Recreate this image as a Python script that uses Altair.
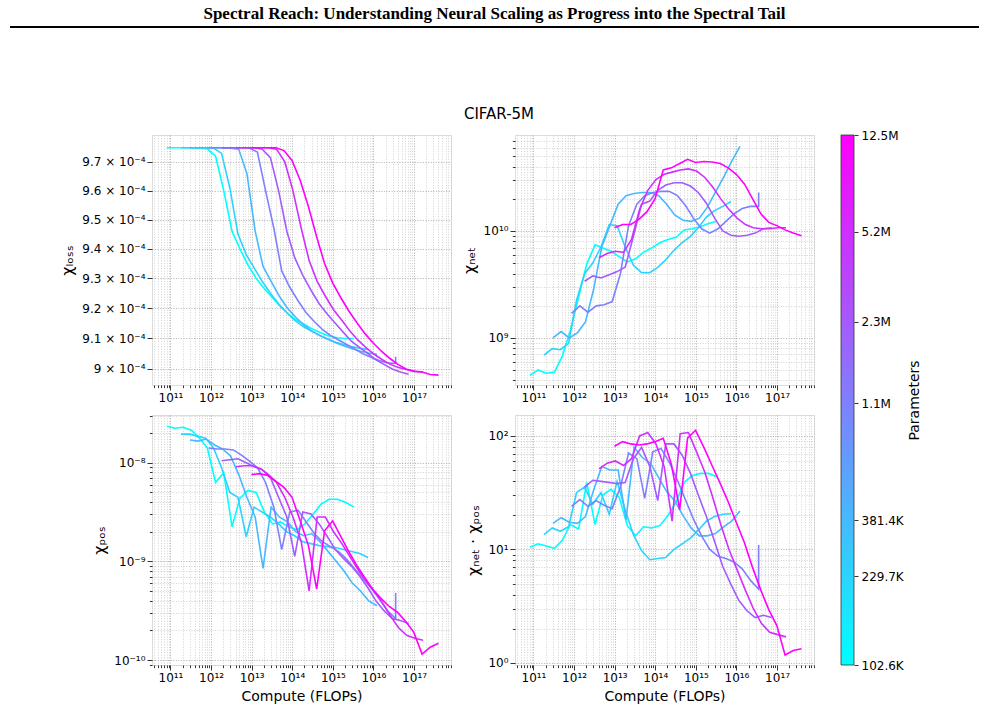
import altair as alt
import pandas as pd

# ---------------------------------------------------------------- data
PARAMS = [102_600, 229_700, 381_400, 1_100_000, 2_300_000, 5_200_000, 12_500_000]
PARAM_LABELS = ["102.6K", "229.7K", "381.4K", "1.1M", "2.3M", "5.2M", "12.5M"]

# checkpoint compute per parameter (compute = params * value)
FLOPS_PER_PARAM = [7.9e5, 1.26e6, 2.0e6, 3.2e6, 5.0e6, 7.9e6, 1.26e7, 2.0e7,
                   3.2e7, 5.0e7, 7.9e7, 1.26e8, 2.0e8, 3.2e8, 5.0e8, 7.9e8,
                   1.26e9, 2.0e9, 3.2e9, 5.0e9, 7.9e9, 1.26e10, 2.0e10, 3.2e10]

# chi_loss in units of 1e-4 (1.1M has one extra final evaluation)
LOSS = [
    [9.750, 9.750, 9.750, 9.750, 9.749, 9.746, 9.72, 9.60, 9.46, 9.40, 9.345, 9.30,
     9.265, 9.235, 9.205, 9.18, 9.16, 9.145, 9.13, 9.118, 9.108, 9.102, 9.100, 9.100],
    [9.750, 9.750, 9.750, 9.750, 9.749, 9.73, 9.61, 9.45, 9.38, 9.335, 9.29, 9.25,
     9.215, 9.185, 9.16, 9.14, 9.125, 9.11, 9.098, 9.088, 9.08, 9.073, 9.068, 9.064],
    [9.750, 9.750, 9.750, 9.750, 9.749, 9.748, 9.745, 9.66, 9.46, 9.34, 9.29, 9.24,
     9.20, 9.17, 9.145, 9.125, 9.11, 9.097, 9.085, 9.075, 9.066, 9.058, 9.052, 9.048],
    [9.750, 9.750, 9.750, 9.750, 9.750, 9.749, 9.735, 9.60, 9.47, 9.325, 9.27, 9.225,
     9.185, 9.155, 9.13, 9.11, 9.095, 9.08, 9.065, 9.05, 9.038, 9.028, 9.02, 9.018, 9.04],
    [9.750, 9.750, 9.750, 9.750, 9.750, 9.745, 9.715, 9.60, 9.46, 9.37, 9.31, 9.26,
     9.215, 9.18, 9.15, 9.12, 9.09, 9.07, 9.05, 9.03, 9.015, 9.0, 8.99, 8.983],
    [9.750, 9.750, 9.750, 9.750, 9.750, 9.745, 9.70, 9.60, 9.47, 9.36, 9.29, 9.24,
     9.195, 9.16, 9.125, 9.095, 9.07, 9.048, 9.03, 9.015, 9.005, 8.998, 8.992, 8.99],
    [9.750, 9.750, 9.750, 9.750, 9.74, 9.705, 9.635, 9.545, 9.44, 9.35, 9.285, 9.235,
     9.19, 9.15, 9.115, 9.085, 9.058, 9.035, 9.015, 9.0, 8.993, 8.99, 8.982, 8.98],
]

# log10 of chi_net
LOG_NET = [
    [8.65, 8.70, 8.67, 8.68, 8.83, 9.07, 9.38, 9.69, 9.87, 9.84, 9.81, 9.76,
     9.71, 9.74, 9.80, 9.84, 9.89, 9.92, 9.94, 10.01, 10.02, 10.04, 10.07, 10.09],
    [8.84, 8.90, 8.89, 8.95, 9.35, 9.60, 9.70, 9.85, 10.06, 10.05, 9.85, 9.68,
     9.61, 9.61, 9.66, 9.73, 9.82, 9.89, 9.95, 10.03, 10.13, 10.19, 10.23, 10.275],
    [9.00, 9.06, 9.00, 9.05, 9.15, 9.45, 9.85, 10.05, 10.25, 10.33, 10.35, 10.36,
     10.36, 10.33, 10.25, 10.15, 10.10, 10.09, 10.12, 10.22, 10.36, 10.50, 10.65, 10.79],
    [9.23, 9.30, 9.24, 9.30, 9.31, 9.34, 9.60, 10.05, 10.25, 10.33, 10.36, 10.37,
     10.37, 10.33, 10.24, 10.12, 10.02, 9.98, 10.02, 10.09, 10.16, 10.21, 10.23, 10.23, 10.36],
    [9.53, 9.58, 9.56, 9.59, 9.62, 9.66, 9.95, 10.25, 10.28, 10.38, 10.43, 10.45,
     10.45, 10.42, 10.36, 10.26, 10.12, 10.00, 9.96, 9.95, 9.96, 9.98, 10.02, 10.03],
    [9.75, 9.79, 9.81, 9.80, 9.92, 10.20, 10.38, 10.48, 10.53, 10.55, 10.57, 10.58,
     10.56, 10.50, 10.41, 10.30, 10.20, 10.12, 10.06, 10.03, 10.02, 10.02, 10.03, 10.03],
    [10.03, 10.06, 10.06, 10.11, 10.18, 10.30, 10.57, 10.59, 10.63, 10.67, 10.64, 10.65,
     10.645, 10.63, 10.59, 10.53, 10.44, 10.30, 10.16, 10.08, 10.05, 10.01, 9.98, 9.955],
]

# log10 of chi_pos
LOG_POS = [
    [-7.63, -7.65, -7.64, -7.67, -7.75, -7.85, -8.20, -8.10, -8.65, -8.36, -8.28, -8.30,
     -8.50, -8.62, -8.60, -8.65, -8.68, -8.62, -8.52, -8.42, -8.37, -8.37, -8.40, -8.45],
    [-7.71, -7.71, -7.73, -7.75, -7.85, -8.05, -8.30, -8.35, -8.75, -8.45, -8.50, -8.55,
     -8.62, -8.70, -8.74, -8.80, -8.82, -8.84, -8.85, -8.86, -8.88, -8.90, -8.92, -8.96],
    [-7.77, -7.78, -7.76, -7.82, -7.86, -7.93, -8.12, -8.35, -8.55, -9.07, -8.45, -8.55,
     -8.60, -8.70, -8.74, -8.72, -8.80, -8.90, -9.00, -9.10, -9.22, -9.30, -9.40, -9.45],
    [-7.85, -7.86, -7.86, -7.87, -7.92, -7.98, -8.05, -8.20, -8.45, -8.88, -8.50, -8.48,
     -8.60, -8.72, -8.80, -8.85, -8.90, -8.98, -9.08, -9.17, -9.27, -9.38, -9.50, -9.58, -9.32],
    [-7.98, -7.97, -7.96, -8.00, -8.04, -8.07, -8.15, -8.35, -8.55, -8.95, -8.50, -8.52,
     -8.62, -8.75, -8.88, -8.97, -9.05, -9.15, -9.27, -9.40, -9.50, -9.58, -9.60, -9.63],
    [-8.04, -8.03, -8.03, -8.06, -8.12, -8.20, -8.35, -8.55, -8.80, -9.30, -8.55, -8.55,
     -8.70, -8.82, -8.95, -9.08, -9.20, -9.30, -9.42, -9.55, -9.67, -9.75, -9.78, -9.80],
    [-8.12, -8.11, -8.13, -8.19, -8.25, -8.35, -8.59, -8.84, -9.28, -8.69, -8.59, -8.75,
     -8.905, -9.05, -9.17, -9.29, -9.38, -9.46, -9.52, -9.61, -9.72, -9.94, -9.87, -9.83],
]

# tick labels
X_TICKS = [1e11, 1e12, 1e13, 1e14, 1e15, 1e16, 1e17]
X_TICK_LABELS = ["10¹¹", "10¹²", "10¹³", "10¹⁴", "10¹⁵", "10¹⁶", "10¹⁷"]
LOSS_TICKS = [9.0e-4, 9.1e-4, 9.2e-4, 9.3e-4, 9.4e-4, 9.5e-4, 9.6e-4, 9.7e-4]
LOSS_TICK_LABELS = ["9 × 10⁻⁴", "9.1 × 10⁻⁴", "9.2 × 10⁻⁴", "9.3 × 10⁻⁴",
                    "9.4 × 10⁻⁴", "9.5 × 10⁻⁴", "9.6 × 10⁻⁴", "9.7 × 10⁻⁴"]
NET_TICKS = [1e9, 1e10]
NET_TICK_LABELS = ["10⁹", "10¹⁰"]
POS_TICKS = [1e-10, 1e-9, 1e-8]
POS_TICK_LABELS = ["10⁻¹⁰", "10⁻⁹", "10⁻⁸"]
PROD_TICKS = [1, 10, 100]
PROD_TICK_LABELS = ["10⁰", "10¹", "10²"]

HEADER = "Spectral Reach: Understanding Neural Scaling as Progress into the Spectral Tail"
SUPTITLE = "CIFAR-5M"

# ---------------------------------------------------------------- table
rows = []
for mi, (n, lab) in enumerate(zip(PARAMS, PARAM_LABELS)):
    npts = len(LOSS[mi])
    fpp = FLOPS_PER_PARAM + [FLOPS_PER_PARAM[-1]] * (npts - len(FLOPS_PER_PARAM))
    for k in range(npts):
        net = 10 ** LOG_NET[mi][k]
        pos = 10 ** LOG_POS[mi][k]
        rows.append({
            "model": mi, "label": lab, "params": n, "step": k,
            "compute": n * fpp[k],
            "loss": LOSS[mi][k] * 1e-4,
            "net": net, "pos": pos, "prod": net * pos,
        })
df = pd.DataFrame(rows)

# ---------------------------------------------------------------- helpers
FONT = "DejaVu Sans"
X_DOMAIN = [3.51e10, 8.13e17]
GRID_MAJOR = "#9c9c9c"
GRID_MINOR = "#c6c6c6"


def minor_ticks(lo, hi, e0, e1):
    out = []
    for e in range(e0, e1 + 1):
        for m in range(2, 10):
            v = m * (10.0 ** e)
            if lo <= v <= hi:
                out.append(v)
    return out


def label_expr(values, labels):
    parts = [f"abs(datum.value / {v!r} - 1) < 1e-6 ? '{t}'" for v, t in zip(values, labels)]
    return " : ".join(parts) + " : ''"


def is_major(major):
    return " || ".join(f"abs(datum.value / {v!r} - 1) < 1e-6" for v in major)


def log_axis(major, labels, minor, title=None, all_major=False, title_size=14):
    test = is_major(major)
    kw = dict(
        values=sorted(major + minor),
        labelExpr=label_expr(major, labels),
        labelOverlap=False, labelFlush=False,
        labelFont=FONT, labelFontSize=12, labelColor="black", labelPadding=2,
        tickColor="black", tickWidth=0.8,
        tickSize=5 if all_major else {"condition": {"test": test, "value": 5}, "value": 2.6},
        grid=True, gridDash=[1, 1.6], gridWidth=0.8,
        gridColor=GRID_MAJOR if all_major else
        {"condition": {"test": test, "value": GRID_MAJOR}, "value": GRID_MINOR},
        domain=False,
        titleFont=FONT, titleFontSize=title_size, titleFontWeight="normal", titleColor="black",
        titlePadding=6,
    )
    kw["title"] = title if title is not None else ""
    return alt.Axis(**kw)


COLOR = alt.Color("params:Q", legend=None,
                  scale=alt.Scale(type="log", domain=[PARAMS[0], PARAMS[-1]],
                                  range=["#00ffff", "#ff00ff"], interpolate="rgb"))

x_minor = minor_ticks(X_DOMAIN[0], X_DOMAIN[1], 10, 17)


def lines(field, ydomain, yaxis, xtitle):
    return alt.Chart(df).mark_line(strokeWidth=1.6, clip=True).encode(
        x=alt.X("compute:Q",
                scale=alt.Scale(type="log", domain=X_DOMAIN, nice=False),
                axis=log_axis(X_TICKS, X_TICK_LABELS, x_minor, title=xtitle)),
        y=alt.Y(f"{field}:Q",
                scale=alt.Scale(type="log", domain=ydomain, nice=False),
                axis=yaxis),
        color=COLOR,
        detail="model:N",
        order="step:Q",
    )


W, H = 299, 250
YT = 16  # y-title size

# top-left: chi_loss
loss_dom = [8.948e-4, 9.795e-4]
tl_lines = lines("loss", loss_dom,
                 log_axis(LOSS_TICKS, LOSS_TICK_LABELS, [], title="χₗₒₛₛ",
                          all_major=True, title_size=YT), None)

one = pd.DataFrame({"k": [0]})
anchor = alt.Chart(one).mark_rule(opacity=0).encode(
    x=alt.value(-142), x2=alt.value(827), y=alt.value(-134))
header_rule = alt.Chart(one).mark_rule(color="black", strokeWidth=1.8).encode(
    x=alt.value(-142), x2=alt.value(827), y=alt.value(-108))
header_text = alt.Chart(one).mark_text(
    text=HEADER, font="Liberation Serif", fontWeight="bold", fontSize=17,
    align="center", baseline="middle", color="black").encode(
    x=alt.value(342.5), y=alt.value(-121))
sup_text = alt.Chart(one).mark_text(
    text=SUPTITLE, font=FONT, fontSize=15, align="center", baseline="middle",
    color="black").encode(x=alt.value(347), y=alt.value(-21))

TL = alt.layer(anchor, header_rule, header_text, sup_text, tl_lines).properties(width=W, height=H)

# top-right: chi_net, with the parameter colorbar
net_dom = [3.63e8, 7.89e10]
tr_lines = lines("net", net_dom,
                 log_axis(NET_TICKS, NET_TICK_LABELS, minor_ticks(net_dom[0], net_dom[1], 8, 10),
                          title="χₙₑₜ", title_size=YT), None)

cbar = alt.Chart(pd.DataFrame({"pmin": [PARAMS[0]], "pmax": [PARAMS[-1]]})).mark_rect(
    fill={"gradient": "linear", "x1": 0, "x2": 0, "y1": 1, "y2": 0,
          "stops": [{"offset": 0, "color": "#00ffff"}, {"offset": 1, "color": "#ff00ff"}]},
    stroke="#333333", strokeWidth=0.8,
).encode(
    x=alt.value(326), x2=alt.value(339),
    y=alt.Y("pmin:Q",
            scale=alt.Scale(type="log", domain=[PARAMS[0], PARAMS[-1]], range=[530, 0], nice=False),
            axis=alt.Axis(orient="right", offset=40, values=PARAMS,
                          labelExpr=label_expr(PARAMS, PARAM_LABELS),
                          labelOverlap=False, labelFlush=False,
                          labelFont=FONT, labelFontSize=12, labelColor="black", labelPadding=3,
                          tickColor="black", tickSize=4, tickWidth=0.8,
                          domain=False, grid=False,
                          title="Parameters", titleFont=FONT, titleFontSize=14,
                          titleFontWeight="normal", titleColor="black",
                          titleAngle=270, titleBaseline="top", titlePadding=4)),
    y2="pmax:Q",
)

TR = alt.layer(tr_lines, cbar).resolve_scale(y="independent").resolve_axis(y="independent") \
    .properties(width=W, height=H)

# bottom-left: chi_pos
pos_dom = [8.9e-11, 3.05e-8]
BL = lines("pos", pos_dom,
           log_axis(POS_TICKS, POS_TICK_LABELS, minor_ticks(pos_dom[0], pos_dom[1], -11, -8),
                    title="χₚₒₛ", title_size=YT),
           "Compute (FLOPs)").properties(width=W, height=H)

# bottom-right: chi_net * chi_pos
prod_dom = [0.96, 153]
BR = lines("prod", prod_dom,
           log_axis(PROD_TICKS, PROD_TICK_LABELS, minor_ticks(prod_dom[0], prod_dom[1], 0, 2),
                    title="χₙₑₜ · χₚₒₛ", title_size=YT),
           "Compute (FLOPs)").properties(width=W, height=H)

chart = alt.concat(TL, TR, BL, BR, columns=2, spacing={"row": 30, "column": 64}) \
    .properties(bounds="flush", padding={"left": 8, "top": 0, "right": 0, "bottom": 0}) \
    .configure_view(stroke="black", strokeWidth=1) \
    .configure(background="white")

chart.save("out.html", embed_options={"renderer": "svg", "actions": False})
